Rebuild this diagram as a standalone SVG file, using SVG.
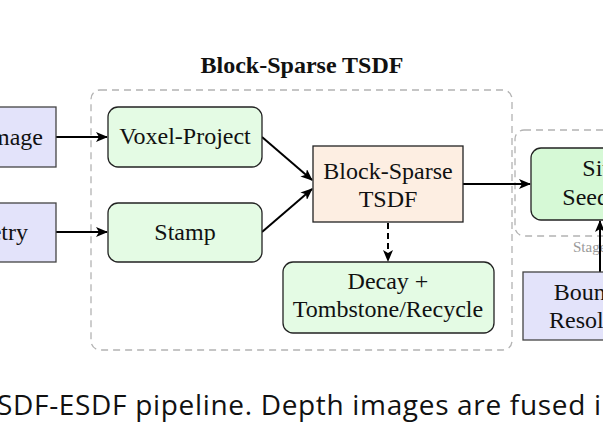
<svg xmlns="http://www.w3.org/2000/svg" width="603" height="442" viewBox="0 0 603 442">
<defs>
<style>
.grp{fill:none;stroke:#b3b3b3;stroke-width:1.3;stroke-dasharray:7 5}
.in{fill:#e3e3fa;stroke:#444;stroke-width:1.3}
.op{fill:#e4fbe4;stroke:#222;stroke-width:1.3}
.op2{fill:#d6f9d6;stroke:#222;stroke-width:1.3}
.st{fill:#fdeee2;stroke:#222;stroke-width:1.3}
.t{font-family:"Liberation Serif","DejaVu Serif",serif;font-size:24px;fill:#111;text-anchor:middle}
.c{stroke:#000;stroke-width:2;fill:none}
</style>
<marker id="ah" viewBox="0 0 12 10" refX="11" refY="5" markerWidth="12" markerHeight="10" markerUnits="userSpaceOnUse" orient="auto">
<path d="M0,0 L12,5 L0,10 L3,5 Z" fill="#000"/>
</marker>
</defs>
<rect width="603" height="442" fill="#fff"/>
<text x="302" y="73" style="font-family:'Liberation Serif','DejaVu Serif',serif;font-size:24px;font-weight:bold;text-anchor:middle;fill:#111">Block-Sparse TSDF</text>
<g id="group-tsdf"><rect class="grp" x="91" y="90" width="421" height="260" rx="9"/></g>
<g id="group-esdf"><rect class="grp" x="515" y="130" width="120" height="106" rx="9"/>
<text x="573" y="252" style="font-family:'Liberation Serif','DejaVu Serif',serif;font-size:15px;fill:#999">Stage 2</text></g>
<g id="connectors">
<line class="c" x1="56" y1="137" x2="107" y2="137" marker-end="url(#ah)"/>
<line class="c" x1="56" y1="232" x2="107" y2="232" marker-end="url(#ah)"/>
<line class="c" x1="262" y1="137" x2="312" y2="180" marker-end="url(#ah)"/>
<line class="c" x1="262" y1="232" x2="312" y2="189" marker-end="url(#ah)"/>
<line class="c" x1="463" y1="184" x2="530" y2="184" marker-end="url(#ah)"/>
<line class="c" x1="388" y1="223" x2="388" y2="261" stroke-dasharray="6 4" marker-end="url(#ah)"/>
<line class="c" x1="600" y1="272" x2="600" y2="221" marker-end="url(#ah)"/>
</g>
<g id="depth-image"><rect class="in" x="-60" y="107" width="116" height="60"/><text class="t" x="43" y="145" style="text-anchor:end">Depth Image</text></g>
<g id="odometry"><rect class="in" x="-60" y="203" width="116" height="59"/><text class="t" x="28" y="240" style="text-anchor:end">Geometry</text></g>
<g id="voxel-project"><rect class="op" x="108" y="107" width="154" height="60" rx="10"/><text class="t" x="185" y="144">Voxel-Project</text></g>
<g id="stamp"><rect class="op" x="108" y="203" width="154" height="59" rx="10"/><text class="t" x="185" y="240">Stamp</text></g>
<g id="block-sparse-tsdf"><rect class="st" x="313" y="146" width="150" height="76"/><text class="t" x="388" y="179">Block-Sparse</text><text class="t" x="388" y="207">TSDF</text></g>
<g id="decay"><rect class="op" x="283" y="262" width="211" height="71" rx="10"/><text class="t" x="388" y="289">Decay +</text><text class="t" x="388" y="317">Tombstone/Recycle</text></g>
<g id="site-seeding"><rect class="op2" x="531" y="148" width="140" height="72" rx="10"/><text class="t" x="601" y="176">Site</text><text class="t" x="601" y="205">Seeding</text></g>
<g id="boundary-resolution"><rect class="in" x="523" y="272" width="150" height="68"/><text class="t" x="601" y="300">Boundary</text><text class="t" x="601" y="328">Resolution</text></g>
<text x="-3" y="415" style="font-family:'Open Sans','DejaVu Sans',sans-serif;font-size:28px;fill:#111" textLength="604" lengthAdjust="spacing">SDF-ESDF pipeline. Depth images are fused i</text>
</svg>
